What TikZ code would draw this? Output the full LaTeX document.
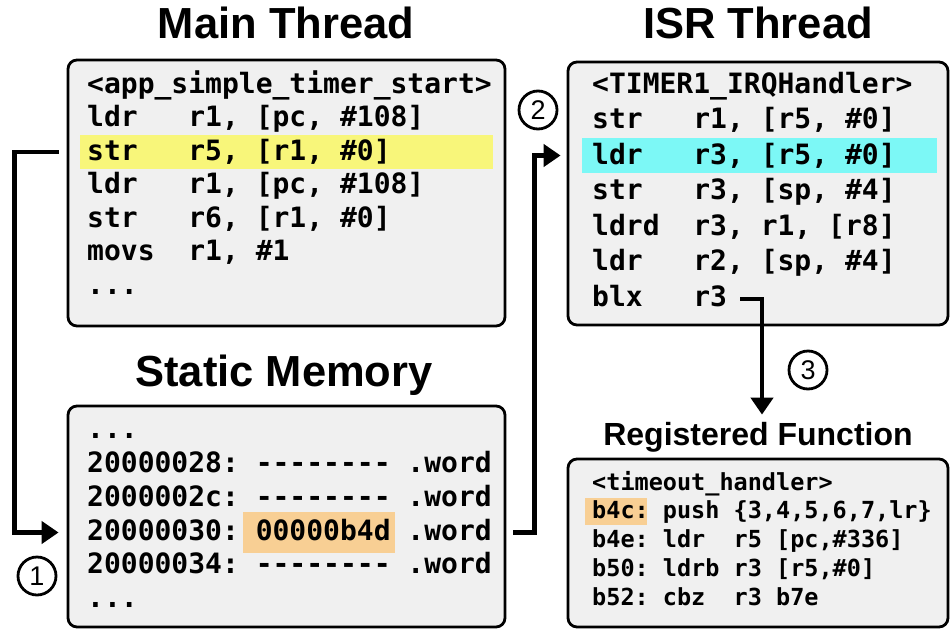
\documentclass[tikz,border=0pt]{standalone}
\usepackage{fontspec}
\setsansfont{Liberation Sans}
\setmonofont{DejaVu Sans Mono}
\usetikzlibrary{arrows.meta}
\definecolor{boxgray}{HTML}{F0F0F0}
\definecolor{hlyellow}{HTML}{F8F67A}
\definecolor{hlcyan}{HTML}{7CF8F6}
\definecolor{hlorange}{HTML}{F8CF94}
\newcommand\dashrun{-{}-{}-{}-{}-{}-{}-{}-}
\tikzset{
  panel/.style={draw=black, line width=2.8pt, rounded corners=9pt, fill=boxgray},
  code/.style={font=\ttfamily\bfseries\fontsize{28}{30}\selectfont, anchor=base west, inner sep=0pt},
  smallcode/.style={font=\ttfamily\bfseries\fontsize{23.5}{26}\selectfont, anchor=base west, inner sep=0pt},
  heading/.style={font=\sffamily\bfseries\fontsize{43.5}{46}\selectfont, anchor=base, inner sep=0pt},
  subheading/.style={font=\sffamily\bfseries\fontsize{32}{34}\selectfont, anchor=base, inner sep=0pt},
  hl/.style={draw=none, inner sep=0pt},
  badge/.style={circle, draw=black, line width=2.8pt, minimum size=38pt, inner sep=0pt, font=\sffamily\fontsize{27}{28}\selectfont},
  flow/.style={draw=black, line width=4.8pt, -{Triangle[length=17pt,width=22pt]}}
}
\begin{document}
\begin{tikzpicture}[x=1pt,y=-1pt]
\useasboundingbox (0,0) rectangle (952,629);

% titles
\node[heading] (tmain) at (286,38) {Main Thread};
\node[heading] (tisr) at (758,38) {ISR Thread};
\node[heading] (tstat) at (284,386) {Static Memory};
\node[subheading] (treg) at (758,445) {Registered Function};

% panels
\node[panel, minimum width=437pt, minimum height=266pt] (main) at (286.5,193) {};
\node[panel, minimum width=380pt, minimum height=263pt] (isr) at (758,193.5) {};
\node[panel, minimum width=437pt, minimum height=221pt] (stat) at (286.5,516.5) {};
\node[panel, minimum width=380pt, minimum height=168pt] (reg) at (758,543) {};

% highlights
\node[hl, fill=hlyellow, minimum width=413pt, minimum height=34pt] (hy) at (286.5,152) {};
\node[hl, fill=hlcyan, minimum width=355pt, minimum height=35pt] (hc) at (759.5,155.5) {};
\node[hl, fill=hlorange, minimum width=152pt, minimum height=41pt] (ho1) at (319,532.5) {};
\node[hl, fill=hlorange, minimum width=62pt, minimum height=27pt] (ho2) at (616,511.5) {};

% main thread code
\node[code] (m0) at (87,93) {<app\_simple\_timer\_start>};
\node[code] (m1) at (87,126.5) {ldr~~~r1,~[pc,~\#108]};
\node[code] (m2) at (87,160) {str~~~r5,~[r1,~\#0]};
\node[code] (m3) at (87,193.5) {ldr~~~r1,~[pc,~\#108]};
\node[code] (m4) at (87,227) {str~~~r6,~[r1,~\#0]};
\node[code] (m5) at (87,260.5) {movs~~r1,~\#1};
\node[code] (m6) at (87,294) {...};

% ISR code
\node[code] (i0) at (592,93) {<TIMER1\_IRQHandler>};
\node[code] (i1) at (592,128.5) {str~~~r1,~[r5,~\#0]};
\node[code] (i2) at (592,164) {ldr~~~r3,~[r5,~\#0]};
\node[code] (i3) at (592,199.5) {str~~~r3,~[sp,~\#4]};
\node[code] (i4) at (592,235) {ldrd~~r3,~r1,~[r8]};
\node[code] (i5) at (592,270.5) {ldr~~~r2,~[sp,~\#4]};
\node[code] (i6) at (592,306) {blx~~~r3};

% static memory
\node[code] (s0) at (87,438) {...};
\node[code] (s1) at (87,472) {20000028:~\dashrun~.word};
\node[code] (s2) at (87,506) {2000002c:~\dashrun~.word};
\node[code] (s3) at (87,540) {20000030:~00000b4d~.word};
\node[code] (s4) at (87,573) {20000034:~\dashrun~.word};
\node[code] (s5) at (87,607) {...};

% registered function
\node[smallcode] (r0) at (592,490) {<timeout\_handler>};
\node[smallcode] (r1) at (592,518.8) {b4c:~push~\{3,4,5,6,7,lr\}};
\node[smallcode] (r2) at (592,547.6) {b4e:~ldr~~r5~[pc,\#336]};
\node[smallcode] (r3) at (592,576.4) {b50:~ldrb~r3~[r5,\#0]};
\node[smallcode] (r4) at (592,605.2) {b52:~cbz~~r3~b7e};

% badges
\node[badge] (b1) at (37,576) {1};
\node[badge] (b2) at (538,110) {2};
\node[badge] (b3) at (808,370) {3};

% connectors
\draw[flow, shorten <=8pt, shorten >=8pt] (hy.center -| main.west) -- ++(-52,0) |- (ho1.center -| stat.west);
\draw[flow, shorten <=7pt, shorten >=6pt] (ho1.center -| stat.east) -- ++(28,0) |- (hc.center -| isr.west);
\coordinate (r3end) at (740,299);
\draw[flow, shorten >=7pt] (r3end) -| ([xshift=4pt]treg.north);
\end{tikzpicture}
\end{document}
